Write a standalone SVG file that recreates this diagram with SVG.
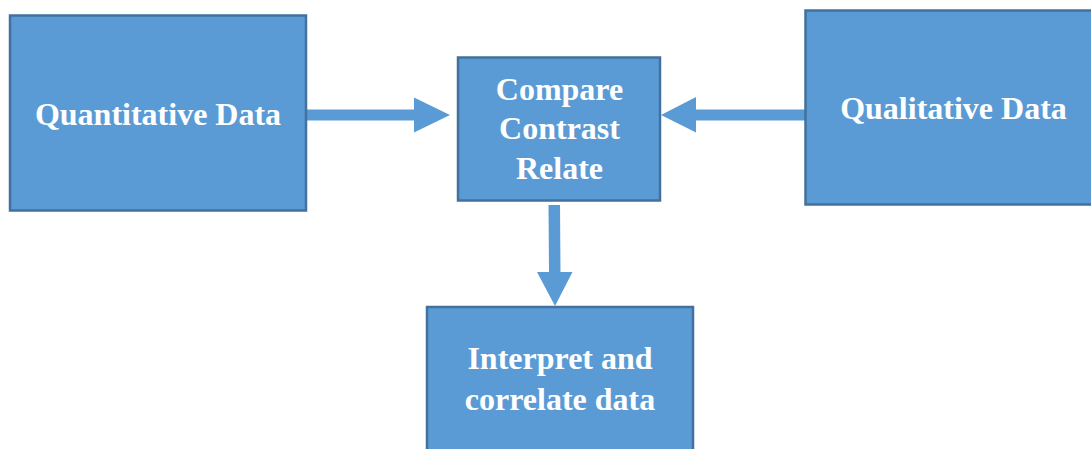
<svg xmlns="http://www.w3.org/2000/svg" width="1091" height="449" viewBox="0 0 1091 449">
  <style>
    .box { fill: #5b9bd5; stroke: #41719c; stroke-width: 2.5; }
    .label { fill: #ffffff; font-family: "Liberation Serif", "Times New Roman", serif; font-weight: bold; font-size: 32px; text-anchor: middle; }
    .arrow { fill: #5b9bd5; }
  </style>
  <rect width="1091" height="449" fill="#ffffff"/>

  <g id="connectors">
    <!-- Quantitative -> Compare -->
    <polygon class="arrow" points="306,109.5 414,109.5 414,97.5 450,115 414,132.5 414,120.5 306,120.5"/>
    <!-- Qualitative -> Compare -->
    <polygon class="arrow" points="805,109.5 696,109.5 696,97 661,115 696,132.5 696,120.5 805,120.5"/>
    <!-- Compare -> Interpret -->
    <polygon class="arrow" points="548.5,205 560,205 560.5,272 572.5,272 555,306 537,272 549,272"/>
  </g>

  <g id="node-quantitative">
    <rect class="box" x="10" y="15.5" width="296" height="195"/>
    <text class="label" x="158" y="125">Quantitative Data</text>
  </g>

  <g id="node-compare">
    <rect class="box" x="458" y="57.5" width="202" height="143"/>
    <text class="label" x="559.5" y="99.5">Compare</text>
    <text class="label" x="559.5" y="139">Contrast</text>
    <text class="label" x="559.5" y="178.5">Relate</text>
  </g>

  <g id="node-qualitative">
    <rect class="box" x="805.5" y="10.5" width="300" height="194"/>
    <text class="label" x="953.5" y="118.5">Qualitative Data</text>
  </g>

  <g id="node-interpret">
    <rect class="box" x="427" y="307" width="266" height="160"/>
    <text class="label" x="560" y="368.5">Interpret and</text>
    <text class="label" x="560" y="410">correlate data</text>
  </g>
</svg>
